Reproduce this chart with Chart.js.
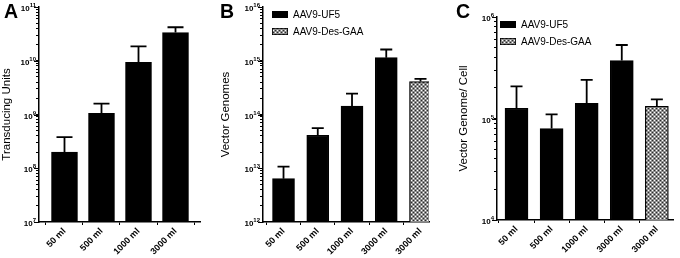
<!DOCTYPE html>
<html>
<head>
<meta charset="utf-8">
<script src="https://cdn.jsdelivr.net/npm/chart.js@4"></script>
<style>
  body { margin: 0; background: #fff; }
  #wrap { position: relative; width: 680px; height: 258px; overflow: hidden; }
  canvas { position: absolute; top: 0; }
  .panel { position: absolute; font: bold 19.5px "Liberation Sans", Arial, sans-serif; line-height: 1; color: #000; }
</style>
</head>
<body>
<div id="wrap">
  <canvas id="chartA" style="left:0px"></canvas>
  <canvas id="chartB" style="left:215px"></canvas>
  <canvas id="chartC" style="left:450px"></canvas>
  <div class="panel" style="left:4px;top:2px">A</div>
  <div class="panel" style="left:220px;top:2px">B</div>
  <div class="panel" style="left:456px;top:2px">C</div>
</div>
<script>
// categories
const doseLabels = ["50 ml", "500 ml", "1000 ml", "3000 ml"];
const desLabel = "3000 ml";
const seriesNames = ["AAV9-UF5", "AAV9-Des-GAA"];

// A: transducing units (mean, top of error bar)
const tuValues = [2.0e8, 1.05e9, 9.3e9, 3.35e10];
const tuErrTop = [3.8e8, 1.6e9, 1.85e10, 4.2e10];

// B: vector genomes
const vgUF5 = [6.4e12, 4.1e13, 1.43e14, 1.14e15];
const vgUF5ErrTop = [1.07e13, 5.6e13, 2.45e14, 1.62e15];
const vgDes = [4.1e14];
const vgDesErrTop = [4.6e14];

// C: vector genome per cell
const vcUF5 = [1.26e5, 7.96e4, 1.41e5, 3.72e5];
const vcUF5ErrTop = [2.07e5, 1.1e5, 2.4e5, 5.3e5];
const vcDes = [1.32e5];
const vcDesErrTop = [1.54e5];

// y axis decades
const yRangeA = [1e7, 1e11];
const yRangeB = [1e12, 1e16];
const yRangeC = [1e4, 1e6];

const FONT = "'Liberation Sans', Arial, sans-serif";
const W = 258;

// checkered fill for the Des-GAA bars
function makePattern() {
  const c = document.createElement("canvas");
  c.width = 4; c.height = 4;
  const g = c.getContext("2d");
  g.fillStyle = "#8f8f8f"; g.fillRect(0, 0, 4, 4);
  g.fillStyle = "#ffffff"; g.fillRect(0, 0, 1, 1); g.fillRect(2, 2, 1, 1);
  g.fillStyle = "#2a2a2a"; g.fillRect(2, 0, 1, 1); g.fillRect(0, 2, 1, 1);
  return g.createPattern(c, "repeat");
}
const checker = makePattern();

function exponentOf(v) {
  const e = Math.log10(v);
  return Math.abs(e - Math.round(e)) < 1e-6 ? Math.round(e) : null;
}

function logTicks(scale) {
  const ticks = [];
  const e0 = Math.round(Math.log10(scale.min)), e1 = Math.round(Math.log10(scale.max));
  for (let e = e0; e <= e1; e++) {
    for (let m = 1; m < 10; m++) {
      const v = m * Math.pow(10, e);
      if (v <= scale.max * 1.0001) ticks.push({ value: v, major: m === 1 });
    }
  }
  scale.ticks = ticks;
}

// error bars (upper only), major ticks with 10^n labels, legend
const extras = {
  id: "extras",
  afterDatasetsDraw(chart, args, opts) {
    const ctx = chart.ctx;
    const yScale = chart.scales.y;
    ctx.save();
    ctx.strokeStyle = "#000";
    ctx.lineWidth = 1.8;
    chart.data.datasets.forEach((ds, di) => {
      const meta = chart.getDatasetMeta(di);
      meta.data.forEach((el, i) => {
        const top = yScale.getPixelForValue(ds.errTop[i]);
        ctx.beginPath();
        ctx.moveTo(el.x, el.y);
        ctx.lineTo(el.x, top);
        ctx.moveTo(el.x - opts.cap / 2, top);
        ctx.lineTo(el.x + opts.cap / 2, top);
        ctx.stroke();
      });
    });
    ctx.restore();
  },
  afterDraw(chart, args, opts) {
    const ctx = chart.ctx;
    const y = chart.scales.y;
    const left = chart.chartArea.left;
    ctx.save();
    ctx.strokeStyle = "#000";
    ctx.fillStyle = "#000";
    ctx.lineWidth = 1;
    ctx.textBaseline = "alphabetic";
    y.ticks.forEach(t => {
      if (!t.major) return;
      const py = Math.round(y.getPixelForValue(t.value)) + 0.5;
      ctx.beginPath();
      ctx.moveTo(left - 5, py);
      ctx.lineTo(left, py);
      ctx.stroke();
      const e = exponentOf(t.value);
      if (e === null) return;
      ctx.font = "bold 6px " + FONT;
      const ew = ctx.measureText(String(e)).width;
      const ex = left - 3 - ew;
      ctx.textAlign = "left";
      ctx.fillText(String(e), ex, py - 0.5);
      ctx.font = "bold 8px " + FONT;
      ctx.textAlign = "right";
      ctx.fillText("10", ex, py + 3.5);
    });
    if (opts.legend) {
      const [lx, ly] = opts.legend;
      ctx.font = "10px " + FONT;
      ctx.textBaseline = "middle";
      ctx.textAlign = "left";
      chart.data.datasets.forEach((ds, i) => {
        const by = ly + i * 17;
        ctx.fillStyle = ds.backgroundColor;
        ctx.fillRect(lx, by, 16, 7);
        ctx.lineWidth = 0.8;
        ctx.strokeRect(lx + 0.4, by + 0.4, 15.2, 6.2);
        ctx.fillStyle = "#000";
        ctx.fillText(ds.label, lx + 21, by + 4);
      });
    }
    ctx.restore();
  }
};

function makeChart(id, cfg) {
  const canvas = document.getElementById(id);
  canvas.width = cfg.width;
  canvas.height = W;
  canvas.style.width = cfg.width + "px";
  canvas.style.height = W + "px";
  return new Chart(canvas, {
    type: "bar",
    data: { datasets: cfg.datasets },
    options: {
      responsive: false,
      animation: false,
      devicePixelRatio: 1,
      layout: { padding: { top: cfg.top, right: cfg.right, left: 0, bottom: 0 } },
      plugins: {
        legend: { display: false },
        tooltip: { enabled: false },
        extras: { cap: cfg.cap, legend: cfg.legend }
      },
      datasets: { bar: { grouped: false, barThickness: cfg.barWidth, borderColor: "#000", borderWidth: 1.2, borderSkipped: "bottom" } },
      scales: {
        x: {
          type: "linear",
          offset: false,
          min: cfg.xRange[0],
          max: cfg.xRange[1],
          afterBuildTicks: s => { s.ticks = cfg.tickLabels.map((_, i) => ({ value: i })); },
          afterFit: s => { s.height = cfg.xHeight; },
          border: { color: "#000", width: 1.5 },
          grid: { display: true, drawOnChartArea: false, drawTicks: true, tickLength: 3, tickColor: "#000" },
          ticks: {
            autoSkip: false,
            maxRotation: 45,
            minRotation: 45,
            padding: 1,
            color: "#000",
            font: { family: FONT, size: 9, weight: "bold" },
            callback: v => cfg.tickLabels[v]
          }
        },
        y: {
          type: "logarithmic",
          min: cfg.yRange[0],
          max: cfg.yRange[1],
          afterBuildTicks: logTicks,
          afterFit: s => { s.width = cfg.yWidth; },
          border: { color: "#000", width: 1.5 },
          grid: { display: true, drawOnChartArea: false, drawTicks: true, tickLength: 3, tickColor: "#000" },
          ticks: { display: false, autoSkip: false },
          title: {
            display: true,
            text: cfg.yTitle,
            color: "#000",
            padding: { top: cfg.titlePad, bottom: 0 },
            font: { family: FONT, size: 11.5 }
          }
        }
      }
    },
    plugins: [extras]
  });
}

const idx = arr => arr.map((v, i) => ({ x: i, y: v }));

makeChart("chartA", {
  width: 215, top: 7, right: 15, xHeight: 36, yWidth: 39, titlePad: 0,
  xRange: [-0.689, 3.662], yRange: yRangeA, barWidth: 26, cap: 16,
  tickLabels: doseLabels, yTitle: "Transducing Units",
  datasets: [{ label: seriesNames[0], data: idx(tuValues), errTop: tuErrTop, backgroundColor: "#000" }]
});

makeChart("chartB", {
  width: 235, top: 7, right: 21, xHeight: 36, yWidth: 48, titlePad: 4,
  xRange: [-0.599, 4.248], yRange: yRangeB, barWidth: 22, cap: 12,
  tickLabels: [...doseLabels, desLabel], yTitle: "Vector Genomes", legend: [57, 11],
  datasets: [
    { label: seriesNames[0], data: idx(vgUF5), errTop: vgUF5ErrTop, backgroundColor: "#000" },
    { label: seriesNames[1], data: vgDes.map(v => ({ x: doseLabels.length, y: v })), errTop: vgDesErrTop, backgroundColor: checker }
  ]
});

makeChart("chartC", {
  width: 230, top: 17, right: 7, xHeight: 38, yWidth: 47, titlePad: 6.5,
  xRange: [-0.556, 4.46], yRange: yRangeC, barWidth: 23, cap: 12,
  tickLabels: [...doseLabels, desLabel], yTitle: "Vector Genome/ Cell", legend: [50, 21],
  datasets: [
    { label: seriesNames[0], data: idx(vcUF5), errTop: vcUF5ErrTop, backgroundColor: "#000" },
    { label: seriesNames[1], data: vcDes.map(v => ({ x: doseLabels.length, y: v })), errTop: vcDesErrTop, backgroundColor: checker }
  ]
});
</script>
</body>
</html>
